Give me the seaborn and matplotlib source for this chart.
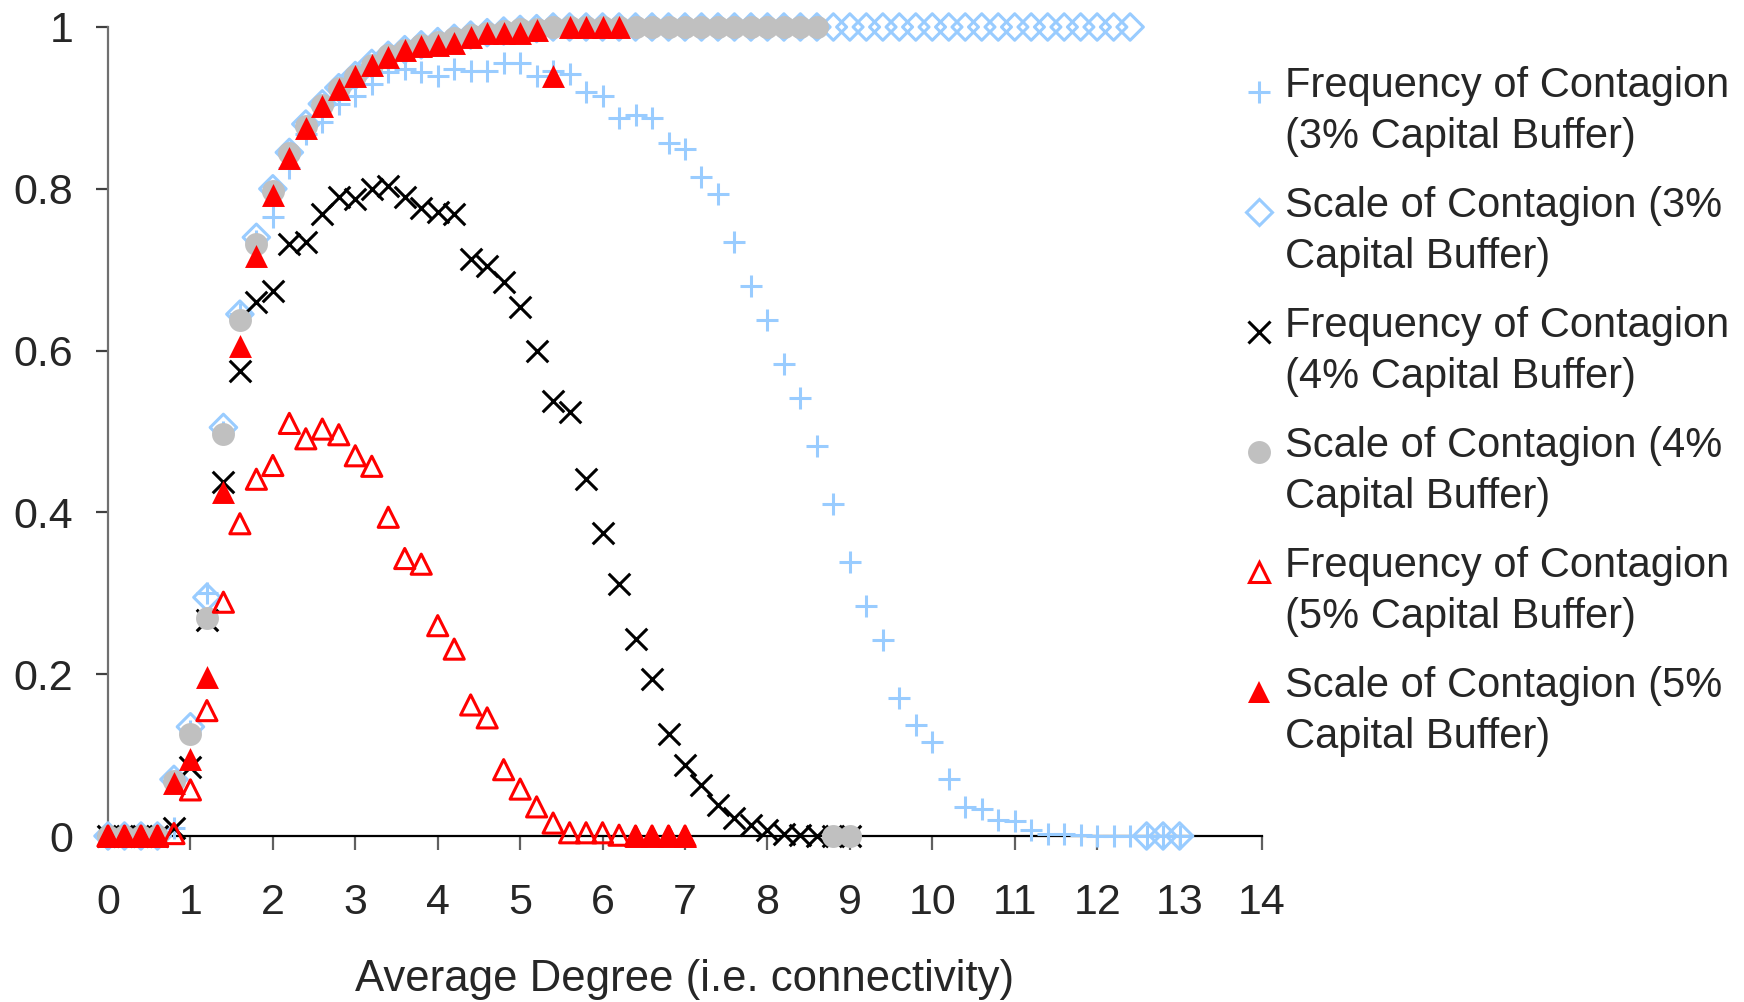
import matplotlib
matplotlib.use("Agg")
import matplotlib.pyplot as plt
import seaborn as sns
import pandas as pd
from matplotlib.lines import Line2D
from matplotlib.legend_handler import HandlerLine2D

# ---------------- data ----------------
x_3pct = [0.0, 0.2, 0.4, 0.6, 0.8, 1.0, 1.2, 1.4, 1.6, 1.8,
          2.0, 2.2, 2.4, 2.6, 2.8, 3.0, 3.2, 3.4, 3.6, 3.8,
          4.0, 4.2, 4.4, 4.6, 4.8, 5.0, 5.2, 5.4, 5.6, 5.8,
          6.0, 6.2, 6.4, 6.6, 6.8, 7.0, 7.2, 7.4, 7.6, 7.8,
          8.0, 8.2, 8.4, 8.6, 8.8, 9.0, 9.2, 9.4, 9.6, 9.8,
          10.0, 10.2, 10.4, 10.6, 10.8, 11.0, 11.2, 11.4, 11.6, 11.8,
          12.0, 12.2, 12.4, 12.6, 12.8, 13.0]
freq_3pct = [0, 0, 0, 0, 0.01, 0.13, 0.30, 0.50, 0.645, 0.735,
             0.765, 0.826, 0.868, 0.882, 0.905, 0.915, 0.93, 0.944, 0.948, 0.944,
             0.94, 0.948, 0.946, 0.946, 0.955, 0.955, 0.94, 0.946, 0.942, 0.92,
             0.915, 0.887, 0.891, 0.887, 0.857, 0.849, 0.815, 0.793, 0.734, 0.68,
             0.638, 0.583, 0.541, 0.482, 0.411, 0.339, 0.284, 0.242, 0.171, 0.137,
             0.116, 0.07, 0.036, 0.033, 0.02, 0.019, 0.007, 0.003, 0.003, 0.001,
             0, 0, 0, 0, 0, 0]
scale_3pct = [0, 0, 0, 0, 0.07, 0.135, 0.295, 0.505, 0.645, 0.74,
              0.80, 0.845, 0.88, 0.905, 0.925, 0.94, 0.955, 0.965, 0.972, 0.978,
              0.982, 0.986, 0.99, 0.993, 0.995, 0.997, 0.998, 1, 1, 1,
              1, 1, 1, 1, 1, 1, 1, 1, 1, 1,
              1, 1, 1, 1, 1, 1, 1, 1, 1, 1,
              1, 1, 1, 1, 1, 1, 1, 1, 1, 1,
              1, 1, 1, 0, 0, 0]

x_4pct = [0.0, 0.2, 0.4, 0.6, 0.8, 1.0, 1.2, 1.4, 1.6, 1.8,
          2.0, 2.2, 2.4, 2.6, 2.8, 3.0, 3.2, 3.4, 3.6, 3.8,
          4.0, 4.2, 4.4, 4.6, 4.8, 5.0, 5.2, 5.4, 5.6, 5.8,
          6.0, 6.2, 6.4, 6.6, 6.8, 7.0, 7.2, 7.4, 7.6, 7.8,
          8.0, 8.2, 8.4, 8.6, 8.8, 9.0]
freq_4pct = [0, 0, 0, 0, 0.01, 0.085, 0.267, 0.438, 0.575, 0.66,
             0.674, 0.732, 0.734, 0.769, 0.79, 0.788, 0.80, 0.804, 0.79, 0.776,
             0.771, 0.769, 0.713, 0.705, 0.685, 0.654, 0.60, 0.538, 0.524, 0.441,
             0.375, 0.311, 0.243, 0.194, 0.126, 0.088, 0.063, 0.038, 0.022, 0.014,
             0.007, 0.003, 0.001, 0, 0, 0]
scale_4pct = [0, 0, 0, 0, 0.068, 0.126, 0.269, 0.497, 0.638, 0.732,
              0.797, 0.844, 0.878, 0.903, 0.925, 0.94, 0.953, 0.965, 0.972, 0.978,
              0.982, 0.986, 0.99, 0.993, 0.995, 0.997, 0.998, 1, 1, 1,
              1, 1, 1, 1, 1, 1, 1, 1, 1, 1,
              1, 1, 1, 1, 0, 0]

x_5pct = [0.0, 0.2, 0.4, 0.6, 0.8, 1.0, 1.2, 1.4, 1.6, 1.8,
          2.0, 2.2, 2.4, 2.6, 2.8, 3.0, 3.2, 3.4, 3.6, 3.8,
          4.0, 4.2, 4.4, 4.6, 4.8, 5.0, 5.2, 5.4, 5.6, 5.8,
          6.0, 6.2, 6.4, 6.6, 6.8, 7.0]
freq_5pct = [0, 0, 0, 0, 0.003, 0.057, 0.155, 0.289, 0.386, 0.441,
             0.458, 0.51, 0.491, 0.503, 0.496, 0.47, 0.457, 0.394, 0.343, 0.336,
             0.26, 0.231, 0.162, 0.146, 0.082, 0.058, 0.036, 0.016, 0.004, 0.004,
             0.004, 0.001, 0, 0, 0, 0]
scale_5pct = [0, 0, 0, 0, 0.066, 0.095, 0.196, 0.425, 0.606, 0.717,
              0.792, 0.838, 0.875, 0.902, 0.923, 0.94, 0.953, 0.963, 0.971, 0.977,
              0.978, 0.98, 0.988, 0.992, 0.993, 0.993, 0.996, 0.94, 1, 1,
              1, 1, 0, 0, 0, 0]

labels = ["Frequency of Contagion\n(3% Capital Buffer)",
          "Scale of Contagion (3%\nCapital Buffer)",
          "Frequency of Contagion\n(4% Capital Buffer)",
          "Scale of Contagion (4%\nCapital Buffer)",
          "Frequency of Contagion\n(5% Capital Buffer)",
          "Scale of Contagion (5%\nCapital Buffer)"]
x_ticks = [0, 1, 2, 3, 4, 5, 6, 7, 8, 9, 10, 11, 12, 13, 14]
y_ticks = [0, 0.2, 0.4, 0.6, 0.8, 1]
y_ticklabels = ["0", "0.2", "0.4", "0.6", "0.8", "1"]
x_label = "Average Degree (i.e. connectivity)"

# ---------------- style ----------------
sns.set_style("white")
plt.rcParams["font.family"] = ["Liberation Sans", "DejaVu Sans"]
FS = 30
FS_TICK = 31
FS_LABEL = 31.5

BLUE = "#99CCFF"
GREY = "#C0C0C0"
RED = "#FF0000"
BLACK = "#000000"

fig = plt.figure(figsize=(17.44, 10.02), dpi=100)
ax = fig.add_axes([108 / 1744, 1 - 836 / 1002, (1262 - 108) / 1744, (836 - 27) / 1002])

# series styles: (x, y, marker, size_pt, face, edge, lw)
series = [
    (x_3pct, freq_3pct, "+", 16, BLUE, BLUE, 2.2),
    (x_3pct, scale_3pct, "D", 13.5, "none", BLUE, 2.2),
    (x_4pct, freq_4pct, "x", 15.5, BLACK, BLACK, 2.2),
    (x_4pct, scale_4pct, "o", 16.5, GREY, GREY, 0.0),
    (x_5pct, freq_5pct, "^", 14.5, "none", RED, 2.2),
    (x_5pct, scale_5pct, "^", 16.5, RED, RED, 0.0),
]

for i, (xs, ys, mk, ms, fc, ec, lw) in enumerate(series):
    df = pd.DataFrame({"x": xs, "y": ys})
    if mk in ("+", "x"):
        sns.scatterplot(data=df, x="x", y="y", ax=ax, marker=mk, s=ms ** 2,
                        color=ec, linewidth=lw, clip_on=False, zorder=3 + i)
    else:
        sns.scatterplot(data=df, x="x", y="y", ax=ax, marker=mk, s=ms ** 2,
                        facecolor=fc, edgecolor=ec, linewidth=lw,
                        clip_on=False, zorder=3 + i)

ax.set_xlim(0, 14)
ax.set_ylim(0, 1)
ax.set_xticks(x_ticks)
ax.set_xticklabels([str(t) for t in x_ticks])
ax.set_yticks(y_ticks)
ax.set_yticklabels(y_ticklabels)
ax.set_xlabel(x_label, fontsize=FS_LABEL, labelpad=26)
ax.set_ylabel("")

for s in ("top", "right"):
    ax.spines[s].set_visible(False)
ax.spines["left"].set_color("#707070")
ax.spines["left"].set_linewidth(1.6)
ax.spines["bottom"].set_color("#000000")
ax.spines["bottom"].set_linewidth(1.6)
ax.tick_params(axis="x", direction="out", length=10, width=1.6, color="#606060",
               labelsize=FS_TICK, pad=24, bottom=True)
ax.tick_params(axis="y", direction="out", length=9, width=1.6, color="#404040",
               labelsize=FS_TICK, pad=16, left=True)
ax.grid(False)


class FirstLineHandler(HandlerLine2D):
    def create_artists(self, legend, orig_handle, xdescent, ydescent, width,
                       height, fontsize, trans):
        arts = super().create_artists(legend, orig_handle, xdescent, ydescent,
                                      width, height, fontsize, trans)
        for a in arts:
            a.set_ydata([v + 0.48 * fontsize for v in a.get_ydata()])
        return arts


handles = []
for (xs, ys, mk, ms, fc, ec, lw) in series:
    handles.append(Line2D([], [], linestyle="none", marker=mk, markersize=ms,
                          markerfacecolor=fc, markeredgecolor=ec,
                          markeredgewidth=lw if lw > 0 else 0.0))

leg = fig.legend(handles, labels, loc="upper left",
                 bbox_to_anchor=(1238 / 1744, 1 - 66 / 1002),
                 bbox_transform=fig.transFigure,
                 frameon=False, fontsize=FS, handlelength=1.0, handletextpad=0.12,
                 labelspacing=0.7, borderpad=0, borderaxespad=0,
                 handler_map={Line2D: FirstLineHandler()})
for t in leg.get_texts():
    t.set_linespacing(1.35)

fig.savefig("out.png", dpi=100)
